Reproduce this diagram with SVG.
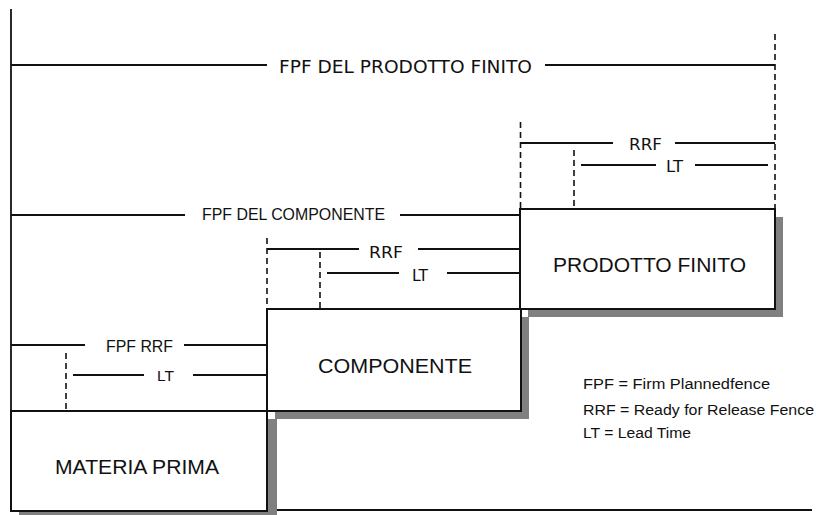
<svg xmlns="http://www.w3.org/2000/svg" width="816" height="515" viewBox="0 0 816 515">
<style>
.ln{stroke:#111;stroke-width:1.8;fill:none}
.ds{stroke:#111;stroke-width:1.6;fill:none;stroke-dasharray:6 4}
.box{fill:#fff;stroke:#111;stroke-width:2}
.sh{fill:#808080}
.t{font-family:"Liberation Sans",Arial,sans-serif;fill:#111}
.d{font-family:"DejaVu Sans",Verdana,sans-serif;fill:#111}
.lab{font-size:16px;text-anchor:start}
.big{font-size:21px}
</style>
<rect width="816" height="515" fill="#fff"/>
<g id="connectors">
<line class="ln" x1="11" y1="9" x2="11" y2="511"/>
<line class="ln" x1="267" y1="510" x2="812" y2="510"/>
<line class="ln" x1="11" y1="65" x2="267" y2="65"/>
<line class="ln" x1="545" y1="65" x2="775" y2="65"/>
<line class="ds" x1="775" y1="34" x2="775" y2="209"/>
<line class="ds" x1="520.5" y1="122" x2="520.5" y2="209"/>
<line class="ds" x1="574" y1="150" x2="574" y2="209"/>
<line class="ln" x1="520" y1="143" x2="613" y2="143"/>
<line class="ln" x1="675" y1="143" x2="775" y2="143"/>
<line class="ln" x1="581" y1="165" x2="656" y2="165"/>
<line class="ln" x1="695" y1="165" x2="768" y2="165"/>
<line class="ln" x1="11" y1="215" x2="185" y2="215"/>
<line class="ln" x1="400" y1="215" x2="520" y2="215"/>
<line class="ds" x1="267" y1="238" x2="267" y2="309"/>
<line class="ds" x1="320" y1="252" x2="320" y2="309"/>
<line class="ln" x1="267" y1="249" x2="359" y2="249"/>
<line class="ln" x1="418" y1="249" x2="521" y2="249"/>
<line class="ln" x1="327" y1="273" x2="399" y2="273"/>
<line class="ln" x1="447" y1="273" x2="521" y2="273"/>
<line class="ln" x1="11" y1="345" x2="85" y2="345"/>
<line class="ln" x1="184" y1="345" x2="267" y2="345"/>
<line class="ds" x1="66" y1="353" x2="66" y2="411"/>
<line class="ln" x1="73" y1="375" x2="144" y2="375"/>
<line class="ln" x1="193" y1="375" x2="267" y2="375"/>
</g>
<g id="labels">
<text class="d" x="279" y="73" font-size="18" textLength="253" lengthAdjust="spacingAndGlyphs">FPF DEL PRODOTTO FINITO</text>
<text class="d" x="629" y="150" font-size="15" textLength="33" lengthAdjust="spacingAndGlyphs">RRF</text>
<text class="d" x="666" y="172" font-size="15" textLength="17" lengthAdjust="spacingAndGlyphs">LT</text>
<text class="t" x="202" y="220" font-size="16" textLength="183" lengthAdjust="spacingAndGlyphs">FPF DEL COMPONENTE</text>
<text class="d" x="369" y="258" font-size="15" textLength="34" lengthAdjust="spacingAndGlyphs">RRF</text>
<text class="d" x="412" y="281" font-size="15" textLength="16" lengthAdjust="spacingAndGlyphs">LT</text>
<text class="t" x="106" y="352" font-size="16" textLength="67" lengthAdjust="spacingAndGlyphs">FPF RRF</text>
<text class="t" x="157" y="381" font-size="15" textLength="17" lengthAdjust="spacingAndGlyphs">LT</text>
</g>
<g id="node-prodotto-finito">
<rect class="sh" x="528" y="217" width="255" height="100"/>
<rect class="box" x="520" y="209" width="255" height="100"/>
<text class="t big" x="553" y="272" textLength="193" lengthAdjust="spacingAndGlyphs">PRODOTTO FINITO</text>
</g>
<g id="node-componente">
<rect class="sh" x="275" y="317" width="254" height="102"/>
<rect class="box" x="267" y="309" width="254" height="102"/>
<text class="t big" x="318" y="373" textLength="154" lengthAdjust="spacingAndGlyphs">COMPONENTE</text>
</g>
<g id="node-materia-prima">
<rect class="sh" x="19" y="419" width="258" height="96"/>
<rect class="box" x="11" y="411" width="256" height="100"/>
<text class="t big" x="55" y="474" textLength="164" lengthAdjust="spacingAndGlyphs">MATERIA PRIMA</text>
</g>
<g id="legend">
<text class="t" x="583" y="389" font-size="15.5" textLength="187" lengthAdjust="spacingAndGlyphs">FPF = Firm Plannedfence</text>
<text class="t" x="583" y="415" font-size="15.5" textLength="231" lengthAdjust="spacingAndGlyphs">RRF = Ready for Release Fence</text>
<text class="t" x="583" y="438" font-size="15.5" textLength="108" lengthAdjust="spacingAndGlyphs">LT = Lead Time</text>
</g>
</svg>
